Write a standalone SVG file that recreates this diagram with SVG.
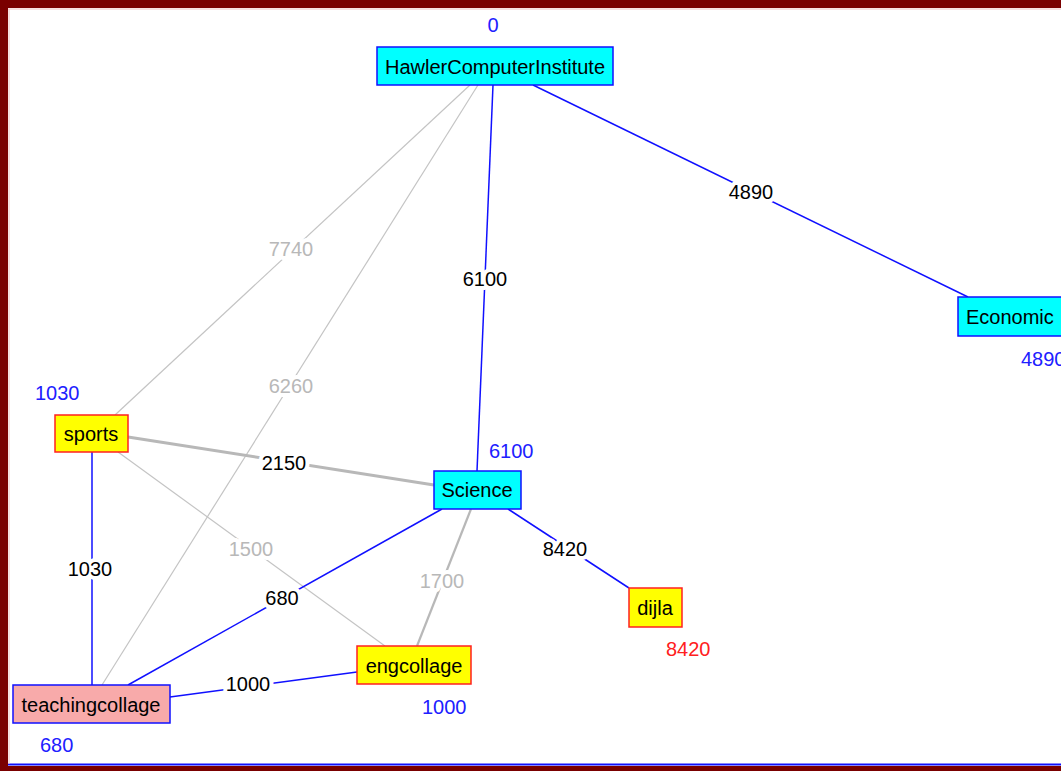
<svg xmlns="http://www.w3.org/2000/svg" width="1061" height="771" viewBox="0 0 1061 771">
<style>
text{font-family:"Liberation Sans",Arial,sans-serif;font-size:20px}
.nt{fill:#000;text-anchor:middle}
.cost{fill:#2020ff}
.red{fill:#ff2020}
.el{text-anchor:middle;paint-order:stroke;stroke:#fff;stroke-width:8px;stroke-linejoin:round}
.eb{fill:#000}
.eg{fill:#b8b8b8}
.blue{stroke:#1010ff;stroke-width:1.5;fill:none}
.gray{stroke:#c4c4c4;stroke-width:1.2;fill:none}
.gray3{stroke:#b8b8b8;stroke-width:3;fill:none}
.gray2{stroke:#b8b8b8;stroke-width:2.2;fill:none}
.cy{fill:#00ffff;stroke:#1010ff;stroke-width:1.5}
.ye{fill:#ffff00;stroke:#ff2020;stroke-width:1.5}
.pk{fill:#f8aaaa;stroke:#1010ff;stroke-width:1.5}
</style>
<rect x="0" y="0" width="1061" height="771" fill="#fff"/>
<g id="connectors">
<line class="gray" x1="470" y1="85" x2="115" y2="415"/>
<line class="gray" x1="478" y1="85" x2="102" y2="685"/>
<line class="gray" x1="118" y1="452" x2="385" y2="646"/>
<line class="blue" x1="493" y1="85" x2="477" y2="471"/>
<line class="blue" x1="533" y1="85" x2="968" y2="297"/>
<line class="gray3" x1="128" y1="437" x2="434" y2="485"/>
<line class="blue" x1="92" y1="452" x2="92" y2="685"/>
<line class="gray2" x1="471" y1="509" x2="417" y2="646"/>
<line class="blue" x1="508" y1="509" x2="629" y2="588"/>
<line class="blue" x1="442" y1="509" x2="128" y2="685"/>
<line class="blue" x1="170" y1="697" x2="357" y2="672"/>
<text class="el eb" x="485" y="286">6100</text>
<text class="el eb" x="751" y="199">4890</text>
<text class="el eg" x="291" y="256">7740</text>
<text class="el eg" x="291" y="393">6260</text>
<text class="el eb" x="284" y="470">2150</text>
<text class="el eb" x="90" y="576">1030</text>
<text class="el eg" x="251" y="556">1500</text>
<text class="el eg" x="442" y="588">1700</text>
<text class="el eb" x="565" y="556">8420</text>
<text class="el eb" x="282" y="605">680</text>
<text class="el eb" x="248" y="691">1000</text>
</g>
<g id="HawlerComputerInstitute">
<rect class="cy" x="377" y="47" width="236" height="38"/>
<text class="nt" x="495" y="74">HawlerComputerInstitute</text>
<text class="cost" x="493" y="32" text-anchor="middle">0</text>
</g>
<g id="Economic">
<rect class="cy" x="958" y="297" width="120" height="39"/>
<text x="966" y="324" fill="#000">Economic</text>
<text class="cost" x="1021" y="366">4890</text>
</g>
<g id="sports">
<rect class="ye" x="55" y="415" width="73" height="37"/>
<text class="nt" x="91" y="441">sports</text>
<text class="cost" x="35" y="400">1030</text>
</g>
<g id="Science">
<rect class="cy" x="434" y="471" width="87" height="38"/>
<text class="nt" x="477" y="497">Science</text>
<text class="cost" x="489" y="458">6100</text>
</g>
<g id="dijla">
<rect class="ye" x="629" y="588" width="53" height="39"/>
<text class="nt" x="655" y="615">dijla</text>
<text class="red" x="666" y="656">8420</text>
</g>
<g id="engcollage">
<rect class="ye" x="357" y="646" width="114" height="38"/>
<text class="nt" x="414" y="673">engcollage</text>
<text class="cost" x="422" y="714">1000</text>
</g>
<g id="teachingcollage">
<rect class="pk" x="13" y="685" width="157" height="38"/>
<text class="nt" x="91" y="712">teachingcollage</text>
<text class="cost" x="40" y="752">680</text>
</g>
<g id="frame">
<rect x="0" y="0" width="1061" height="8" fill="#7a0000"/>
<rect x="0" y="0" width="8" height="771" fill="#7a0000"/>
<rect x="0" y="766" width="1061" height="5" fill="#7a0000"/>
<line x1="8" y1="764.5" x2="1061" y2="764.5" stroke="#1010ff" stroke-width="2"/>
<line x1="8" y1="9" x2="1061" y2="9" stroke="#f0c0c0" stroke-width="1"/>
<line x1="9" y1="9" x2="9" y2="764" stroke="#f0c0c0" stroke-width="1"/>
</g>
</svg>
